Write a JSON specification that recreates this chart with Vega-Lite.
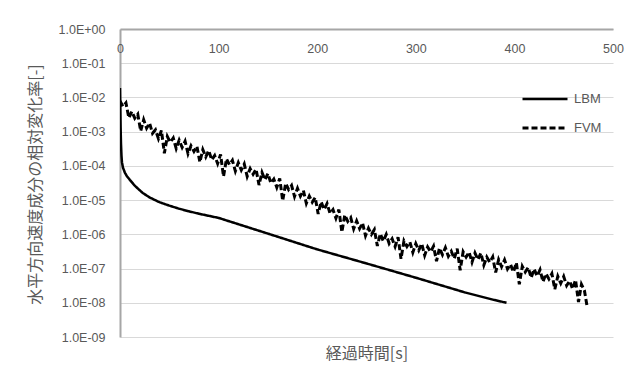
{
"$schema": "https://vega.github.io/schema/vega-lite/v6.json",
"width": 493, "height": 308,
"autosize": "none",
"padding": {"left": 120, "top": 29, "right": 25, "bottom": 41},
"background": "white",
"config": {"view": {"stroke": null}, "font": "Liberation Sans"},
"datasets": {"lines": [
{"series":"LBM","t":0,"v":1.9e-2},{"series":"LBM","t":0.3,"v":5.0e-3},{"series":"LBM","t":0.6,"v":1.41e-3},{"series":"LBM","t":1,"v":4.47e-4},{"series":"LBM","t":1.5,"v":2.0e-4},{"series":"LBM","t":2,"v":1.26e-4},{"series":"LBM","t":3,"v":8.9e-5},{"series":"LBM","t":5,"v":6.3e-5},{"series":"LBM","t":7,"v":5.0e-5},{"series":"LBM","t":10,"v":3.9e-5},{"series":"LBM","t":15,"v":2.63e-5},{"series":"LBM","t":23,"v":1.62e-5},{"series":"LBM","t":30,"v":1.2e-5},{"series":"LBM","t":40,"v":8.7e-6},{"series":"LBM","t":50,"v":6.9e-6},{"series":"LBM","t":60,"v":5.6e-6},{"series":"LBM","t":70,"v":4.7e-6},{"series":"LBM","t":80,"v":4.0e-6},{"series":"LBM","t":90,"v":3.47e-6},{"series":"LBM","t":100,"v":3.02e-6},{"series":"LBM","t":150,"v":1.05e-6},{"series":"LBM","t":200,"v":3.63e-7},{"series":"LBM","t":250,"v":1.41e-7},{"series":"LBM","t":300,"v":5.4e-8},{"series":"LBM","t":350,"v":2.0e-8},{"series":"LBM","t":380,"v":1.2e-8},{"series":"LBM","t":392,"v":1.0e-8},
{"series":"FVM","t":0,"v":7.9e-3},{"series":"FVM","t":3,"v":5.43e-3},{"series":"FVM","t":6,"v":6.92e-3},{"series":"FVM","t":9,"v":2.54e-3},{"series":"FVM","t":12,"v":3.89e-3},{"series":"FVM","t":15,"v":2.48e-3},{"series":"FVM","t":18,"v":3.25e-3},{"series":"FVM","t":21,"v":1.04e-3},{"series":"FVM","t":24,"v":2.23e-3},{"series":"FVM","t":27,"v":1.26e-3},
{"series":"FVM","t":30,"v":1.78e-3},{"series":"FVM","t":33,"v":8.95e-4},{"series":"FVM","t":36,"v":1.13e-3},{"series":"FVM","t":39,"v":6.24e-4},{"series":"FVM","t":42,"v":1.09e-3},{"series":"FVM","t":45,"v":2.33e-4},{"series":"FVM","t":48,"v":7.24e-4},{"series":"FVM","t":51,"v":4.88e-4},{"series":"FVM","t":54,"v":6.55e-4},{"series":"FVM","t":57,"v":3.2e-4},
{"series":"FVM","t":60,"v":5.66e-4},{"series":"FVM","t":63,"v":3.48e-4},{"series":"FVM","t":66,"v":5.24e-4},{"series":"FVM","t":69,"v":2.28e-4},{"series":"FVM","t":72,"v":3.85e-4},{"series":"FVM","t":75,"v":2.65e-4},{"series":"FVM","t":78,"v":3.73e-4},{"series":"FVM","t":81,"v":1.29e-4},{"series":"FVM","t":84,"v":2.99e-4},{"series":"FVM","t":87,"v":1.83e-4},
{"series":"FVM","t":90,"v":2.81e-4},{"series":"FVM","t":93,"v":1.5e-4},{"series":"FVM","t":96,"v":2.0e-4},{"series":"FVM","t":99,"v":1.17e-4},{"series":"FVM","t":102,"v":2.16e-4},{"series":"FVM","t":105,"v":4.91e-5},{"series":"FVM","t":108,"v":1.61e-4},{"series":"FVM","t":111,"v":1.08e-4},{"series":"FVM","t":114,"v":1.45e-4},{"series":"FVM","t":117,"v":7.05e-5},
{"series":"FVM","t":120,"v":1.24e-4},{"series":"FVM","t":123,"v":7.6e-5},{"series":"FVM","t":126,"v":1.14e-4},{"series":"FVM","t":129,"v":4.94e-5},{"series":"FVM","t":132,"v":8.32e-5},{"series":"FVM","t":135,"v":5.7e-5},{"series":"FVM","t":138,"v":8.0e-5},{"series":"FVM","t":141,"v":2.75e-5},{"series":"FVM","t":144,"v":6.4e-5},{"series":"FVM","t":147,"v":3.91e-5},
{"series":"FVM","t":150,"v":5.97e-5},{"series":"FVM","t":153,"v":3.13e-5},{"series":"FVM","t":156,"v":4.11e-5},{"series":"FVM","t":159,"v":2.36e-5},{"series":"FVM","t":162,"v":4.29e-5},{"series":"FVM","t":165,"v":9.57e-6},{"series":"FVM","t":168,"v":3.09e-5},{"series":"FVM","t":171,"v":2.04e-5},{"series":"FVM","t":174,"v":2.68e-5},{"series":"FVM","t":177,"v":1.28e-5},
{"series":"FVM","t":180,"v":2.21e-5},{"series":"FVM","t":183,"v":1.31e-5},{"series":"FVM","t":186,"v":1.91e-5},{"series":"FVM","t":189,"v":8.02e-6},{"series":"FVM","t":192,"v":1.31e-5},{"series":"FVM","t":195,"v":8.71e-6},{"series":"FVM","t":198,"v":1.19e-5},{"series":"FVM","t":201,"v":3.95e-6},{"series":"FVM","t":204,"v":8.91e-6},{"series":"FVM","t":207,"v":5.3e-6},
{"series":"FVM","t":210,"v":7.89e-6},{"series":"FVM","t":213,"v":4.07e-6},{"series":"FVM","t":216,"v":5.26e-6},{"series":"FVM","t":219,"v":2.96e-6},{"series":"FVM","t":222,"v":5.28e-6},{"series":"FVM","t":225,"v":1.16e-6},{"series":"FVM","t":228,"v":3.67e-6},{"series":"FVM","t":231,"v":2.38e-6},{"series":"FVM","t":234,"v":3.08e-6},{"series":"FVM","t":237,"v":1.44e-6},
{"series":"FVM","t":240,"v":2.45e-6},{"series":"FVM","t":243,"v":1.47e-6},{"series":"FVM","t":246,"v":2.15e-6},{"series":"FVM","t":249,"v":9.08e-7},{"series":"FVM","t":252,"v":1.5e-6},{"series":"FVM","t":255,"v":1.0e-6},{"series":"FVM","t":258,"v":1.37e-6},{"series":"FVM","t":261,"v":4.6e-7},{"series":"FVM","t":264,"v":1.04e-6},{"series":"FVM","t":267,"v":6.34e-7},
{"series":"FVM","t":270,"v":9.93e-7},{"series":"FVM","t":273,"v":5.4e-7},{"series":"FVM","t":276,"v":7.36e-7},{"series":"FVM","t":279,"v":4.39e-7},{"series":"FVM","t":282,"v":8.26e-7},{"series":"FVM","t":285,"v":1.92e-7},{"series":"FVM","t":288,"v":6.43e-7},{"series":"FVM","t":291,"v":4.4e-7},{"series":"FVM","t":294,"v":6.0e-7},{"series":"FVM","t":297,"v":2.97e-7},
{"series":"FVM","t":300,"v":5.35e-7},{"series":"FVM","t":303,"v":3.4e-7},{"series":"FVM","t":306,"v":5.35e-7},{"series":"FVM","t":309,"v":2.43e-7},{"series":"FVM","t":312,"v":4.29e-7},{"series":"FVM","t":315,"v":3.08e-7},{"series":"FVM","t":318,"v":4.52e-7},{"series":"FVM","t":321,"v":1.63e-7},{"series":"FVM","t":324,"v":3.96e-7},{"series":"FVM","t":327,"v":2.54e-7},
{"series":"FVM","t":330,"v":4.09e-7},{"series":"FVM","t":333,"v":2.29e-7},{"series":"FVM","t":336,"v":3.2e-7},{"series":"FVM","t":339,"v":1.95e-7},{"series":"FVM","t":342,"v":3.78e-7},{"series":"FVM","t":345,"v":8.97e-8},{"series":"FVM","t":348,"v":3.08e-7},{"series":"FVM","t":351,"v":2.16e-7},{"series":"FVM","t":354,"v":3.03e-7},{"series":"FVM","t":357,"v":1.54e-7},
{"series":"FVM","t":360,"v":2.84e-7},{"series":"FVM","t":363,"v":1.82e-7},{"series":"FVM","t":366,"v":2.83e-7},{"series":"FVM","t":369,"v":1.26e-7},{"series":"FVM","t":372,"v":2.16e-7},{"series":"FVM","t":375,"v":1.52e-7},{"series":"FVM","t":378,"v":2.18e-7},{"series":"FVM","t":381,"v":7.67e-8},{"series":"FVM","t":384,"v":1.83e-7},{"series":"FVM","t":387,"v":1.14e-7},
{"series":"FVM","t":390,"v":1.79e-7},{"series":"FVM","t":393,"v":9.75e-8},{"series":"FVM","t":396,"v":1.33e-7},{"series":"FVM","t":399,"v":7.93e-8},{"series":"FVM","t":402,"v":1.49e-7},{"series":"FVM","t":405,"v":3.46e-8},{"series":"FVM","t":408,"v":1.16e-7},{"series":"FVM","t":411,"v":7.94e-8},{"series":"FVM","t":414,"v":1.08e-7},{"series":"FVM","t":417,"v":5.37e-8},
{"series":"FVM","t":420,"v":9.66e-8},{"series":"FVM","t":423,"v":6.03e-8},{"series":"FVM","t":426,"v":9.25e-8},{"series":"FVM","t":429,"v":4.1e-8},{"series":"FVM","t":432,"v":7.06e-8},{"series":"FVM","t":435,"v":4.95e-8},{"series":"FVM","t":438,"v":7.11e-8},{"series":"FVM","t":441,"v":2.5e-8},{"series":"FVM","t":444,"v":5.94e-8},{"series":"FVM","t":447,"v":3.72e-8},
{"series":"FVM","t":450,"v":5.85e-8},{"series":"FVM","t":453,"v":3.18e-8},{"series":"FVM","t":456,"v":4.37e-8},{"series":"FVM","t":459,"v":2.54e-8},{"series":"FVM","t":462,"v":4.66e-8},{"series":"FVM","t":465,"v":1.05e-8},{"series":"FVM","t":468,"v":3.44e-8},{"series":"FVM","t":471,"v":2.29e-8},{"series":"FVM","t":474,"v":7.08e-9}
]},
"layer": [
{
 "data": {"name": "lines"},
 "mark": {"type": "line", "color": "black", "clip": true},
 "encoding": {
  "x": {"field": "t", "type": "quantitative", "scale": {"domain": [0, 500], "nice": false},
        "axis": {"orient": "top", "values": [0,100,200,300,400,500], "grid": false, "ticks": false,
                 "domainColor": "#a6a6a6", "domainWidth": 2, "labelPadding": -26, "labelFlush": false,
                 "labelFontSize": 12.5, "labelColor": "#595959", "title": null, "zindex": 1}},
  "y": {"field": "v", "type": "quantitative", "scale": {"type": "log", "domain": [1e-9, 1], "nice": false},
        "axis": {"values": [1e-9,1e-8,1e-7,1e-6,1e-5,1e-4,1e-3,1e-2,1e-1,1],
                 "labelExpr": "'1.0E' + (datum.value >= 1 ? '+' : '-') + (abs(round(log(datum.value)/LN10)) < 10 ? '0' : '') + abs(round(log(datum.value)/LN10))",
                 "grid": true, "gridColor": "#d9d9d9", "gridWidth": 1, "ticks": false,
                 "domainColor": "#a6a6a6", "domainWidth": 2, "labelPadding": 15,
                 "labelFontSize": 12.5, "labelColor": "#595959",
                 "title": "水平方向速度成分の相対変化率[-]", "titleFont": "Noto Sans CJK JP", "titleFontSize": 16,
                 "titleFontWeight": "normal", "titleColor": "#595959", "titleAngle": -90,
                 "titleX": -85, "titleY": 155, "titleAlign": "center", "titleBaseline": "middle"}},
  "strokeDash": {"field": "series", "type": "nominal",
        "scale": {"domain": ["LBM", "FVM"], "range": [[1, 0], [6, 3]]},
        "legend": {"title": null, "orient": "none", "legendX": 401, "legendY": 62, "padding": 0,
                   "symbolType": "stroke", "symbolSize": 2025, "symbolStrokeColor": "black", "symbolStrokeWidth": 2.5,
                   "clipHeight": 16, "rowPadding": 13, "labelOffset": 5, "labelFontSize": 13, "labelColor": "#595959"}},
  "strokeWidth": {"field": "series", "type": "nominal", "scale": {"domain": ["LBM", "FVM"], "range": [2.5, 3]}, "legend": null}
 }
},
{
 "mark": {"type": "rule", "opacity": 0},
 "encoding": {
  "x": {"datum": 0, "type": "quantitative",
        "axis": {"orient": "bottom", "domain": false, "labels": false, "ticks": false, "grid": false,
                 "title": "経過時間[s]", "titlePadding": 8, "titleFont": "Noto Sans CJK JP", "titleFontSize": 16,
                 "titleFontWeight": "normal", "titleColor": "#595959"}}
 }
}
],
"resolve": {"axis": {"x": "independent"}}
}
